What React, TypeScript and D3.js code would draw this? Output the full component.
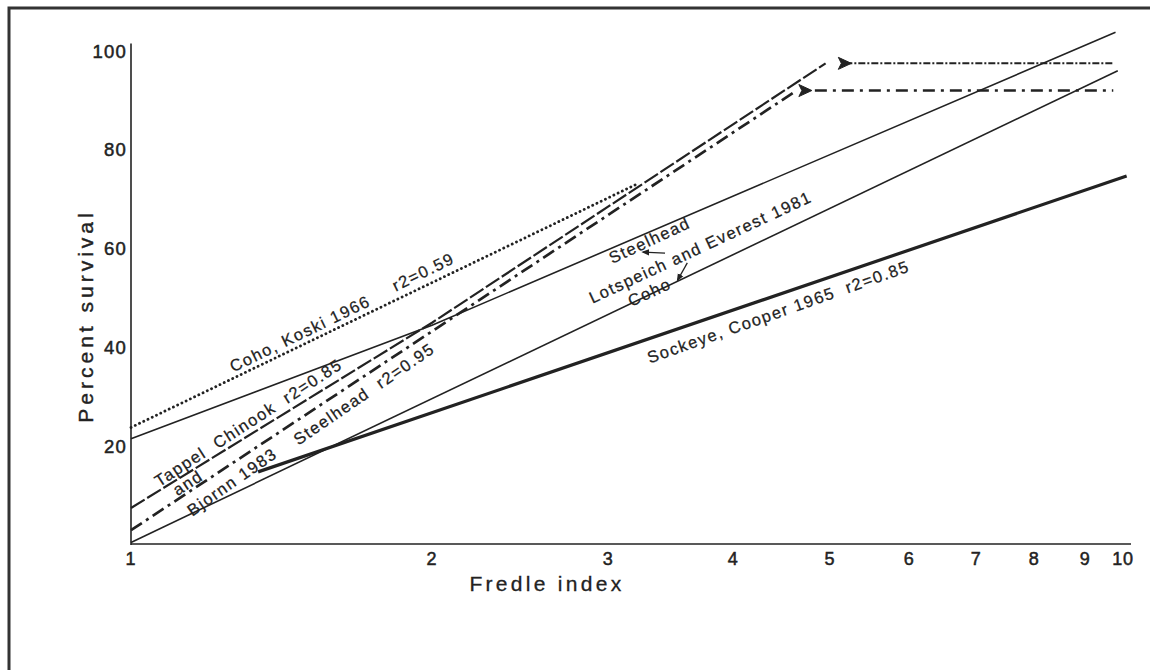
import React, { useEffect, useRef } from 'react';
import * as d3 from 'd3';

// Fredle index (x) vs percent survival (y)
const fredleTicks = [1, 2, 3, 4, 5, 6, 7, 8, 9, 10];
const survivalTicks = [20, 40, 60, 80, 100];

const cohoKoski = [[1, 23.8], [3.2, 73]];
const steelheadLE = [[1, 21.5], [2, 44.5], [9.65, 103.8]];
const cohoLE = [[1, 0.5], [9.7, 96]];
const sockeyeCooper = [[1.34, 14.8], [9.9, 74.7]];
const chinookTB = [[1, 7.5], [2, 45], [4.95, 97.5]];
const chinookPlateau = [[5.18, 97.5], [9.6, 97.5]];
const steelheadTB = [[1, 3], [4.63, 92]];
const steelheadPlateau = [[4.73, 92], [9.6, 92]];

const notes = [
  { text: 'Coho, Koski 1966', x: 1.476, y: 42.8, angle: -26 },
  { text: 'r2=0.59', x: 1.96, y: 55.3, angle: -26 },
  { text: 'Tappel  Chinook  r2=0.85', x: 1.31, y: 24.8, angle: -33 },
  { text: 'and', x: 1.14, y: 12.6, angle: -33 },
  { text: 'Bjornn 1983', x: 1.262, y: 12.8, angle: -35 },
  { text: 'Steelhead  r2=0.95', x: 1.71, y: 30.6, angle: -34.5 },
  { text: 'Steelhead', x: 3.3, y: 61.7, angle: -25 },
  { text: 'Lotspeich and Everest 1981', x: 3.71, y: 60.3, angle: -25 },
  { text: 'Coho', x: 3.3, y: 51.2, angle: -25 },
  { text: 'Sockeye, Cooper 1965  r2=0.85', x: 4.44, y: 47.2, angle: -19.5 },
];

const App = () => {
  const ref = useRef<SVGSVGElement>(null);

  useEffect(() => {
    const svg = d3.select(ref.current);
    svg.selectAll('*').remove();

    const ink = '#222';
    const x = d3.scaleLog().domain([1, 10]).range([131, 1131]);
    const y = d3.scaleLinear().domain([0, 100]).range([545, 51]);

    // frame (only top and left edges fall inside the picture)
    svg.append('rect')
      .attr('x', 9).attr('y', 8)
      .attr('width', 1170).attr('height', 700)
      .attr('fill', 'none')
      .attr('stroke', '#333')
      .attr('stroke-width', 3);

    // axes
    svg.append('line')
      .attr('x1', x(1)).attr('x2', x(1))
      .attr('y1', y(0)).attr('y2', y(101.5))
      .attr('stroke', ink).attr('stroke-width', 1.6);
    svg.append('line')
      .attr('x1', x(1)).attr('x2', x(10))
      .attr('y1', y(0) - 1).attr('y2', y(0) - 1)
      .attr('stroke', ink).attr('stroke-width', 1.6);

    const font = '"Liberation Sans", Arial, sans-serif';

    svg.append('g').selectAll('text')
      .data(survivalTicks)
      .enter().append('text')
      .attr('x', x(1) - 4)
      .attr('y', d => y(d))
      .attr('dy', '0.36em')
      .attr('text-anchor', 'end')
      .attr('font-family', font)
      .attr('font-size', 18.5)
      .attr('letter-spacing', 1.2)
      .attr('stroke', ink).attr('stroke-width', 0.5)
      .attr('fill', ink)
      .text(d => d);

    svg.append('g').selectAll('text')
      .data(fredleTicks)
      .enter().append('text')
      .attr('x', d => (d === 10 ? x(d) - 8 : x(d)))
      .attr('y', y(0) + 20)
      .attr('text-anchor', 'middle')
      .attr('font-family', font)
      .attr('font-size', 18)
      .attr('letter-spacing', 0.8)
      .attr('stroke', ink).attr('stroke-width', 0.5)
      .attr('fill', ink)
      .text(d => d);

    svg.append('text')
      .attr('x', 547).attr('y', 591)
      .attr('text-anchor', 'middle')
      .attr('font-family', font)
      .attr('font-size', 21)
      .attr('letter-spacing', 3.3)
      .attr('stroke', ink).attr('stroke-width', 0.3)
      .attr('fill', ink)
      .text('Fredle index');

    svg.append('text')
      .attr('transform', 'translate(93,316) rotate(-90)')
      .attr('text-anchor', 'middle')
      .attr('font-family', font)
      .attr('font-size', 21)
      .attr('letter-spacing', 4)
      .attr('stroke', ink).attr('stroke-width', 0.4)
      .attr('fill', ink)
      .text('Percent survival');

    const line = d3.line<number[]>()
      .x(d => x(d[0]))
      .y(d => y(d[1]));

    const draw = (data: number[][], width: number, dash: string | null, round = false) => {
      svg.append('path')
        .datum(data)
        .attr('d', line)
        .attr('fill', 'none')
        .attr('stroke', ink)
        .attr('stroke-width', width)
        .attr('stroke-linecap', round ? 'round' : 'butt')
        .attr('stroke-dasharray', dash);
    };

    draw(cohoKoski, 2.8, '0.1,4.6', true);
    draw(steelheadLE, 1.6, null);
    draw(cohoLE, 1.6, null);
    draw(sockeyeCooper, 3.2, null);
    draw(chinookTB, 2.2, '16,3');
    draw(chinookPlateau, 2, '7,2,2,2');
    draw(steelheadTB, 2.7, '13,5,3,5');
    draw(steelheadPlateau, 2.5, '3,6,12,6');

    // arrow heads at the start of the plateaus
    [chinookPlateau[0], steelheadPlateau[0]].forEach(p => {
      svg.append('path')
        .attr('transform', `translate(${x(p[0])},${y(p[1])})`)
        .attr('d', 'M-7,-6 L6,0 L-7,6 L-4,0 Z')
        .attr('fill', ink)
        .attr('stroke', ink)
        .attr('stroke-width', 1);
    });

    svg.append('g').selectAll('text')
      .data(notes)
      .enter().append('text')
      .attr('transform', d => `translate(${x(d.x)},${y(d.y)}) rotate(${d.angle})`)
      .attr('text-anchor', 'middle')
      .attr('dy', '0.35em')
      .attr('font-family', font)
      .attr('font-size', 16.5)
      .attr('letter-spacing', 1.5)
      .attr('stroke', ink).attr('stroke-width', 0.25)
      .attr('fill', ink)
      .style('white-space', 'pre')
      .text(d => d.text);

    // small pointer arrows for the Lotspeich and Everest labels
    const defs = svg.append('defs');
    defs.append('marker')
      .attr('id', 'tip')
      .attr('viewBox', '0 0 10 10')
      .attr('refX', 8).attr('refY', 5)
      .attr('markerWidth', 6).attr('markerHeight', 6)
      .attr('orient', 'auto')
      .append('path')
      .attr('d', 'M0,1 L10,5 L0,9 Z')
      .attr('fill', ink);

    const pointers = [
      [[3.42, 59.1], [3.25, 59.3]],
      [[3.6, 57.1], [3.52, 53.6]],
    ];
    pointers.forEach(p => {
      svg.append('line')
        .attr('x1', x(p[0][0])).attr('y1', y(p[0][1]))
        .attr('x2', x(p[1][0])).attr('y2', y(p[1][1]))
        .attr('stroke', ink).attr('stroke-width', 1.3)
        .attr('marker-end', 'url(#tip)');
    });
  }, []);

  return (
    <svg
      ref={ref}
      width={1150}
      height={670}
      style={{ position: 'absolute', left: 0, top: 0, background: '#fff' }}
    ></svg>
  );
};

export default App;
